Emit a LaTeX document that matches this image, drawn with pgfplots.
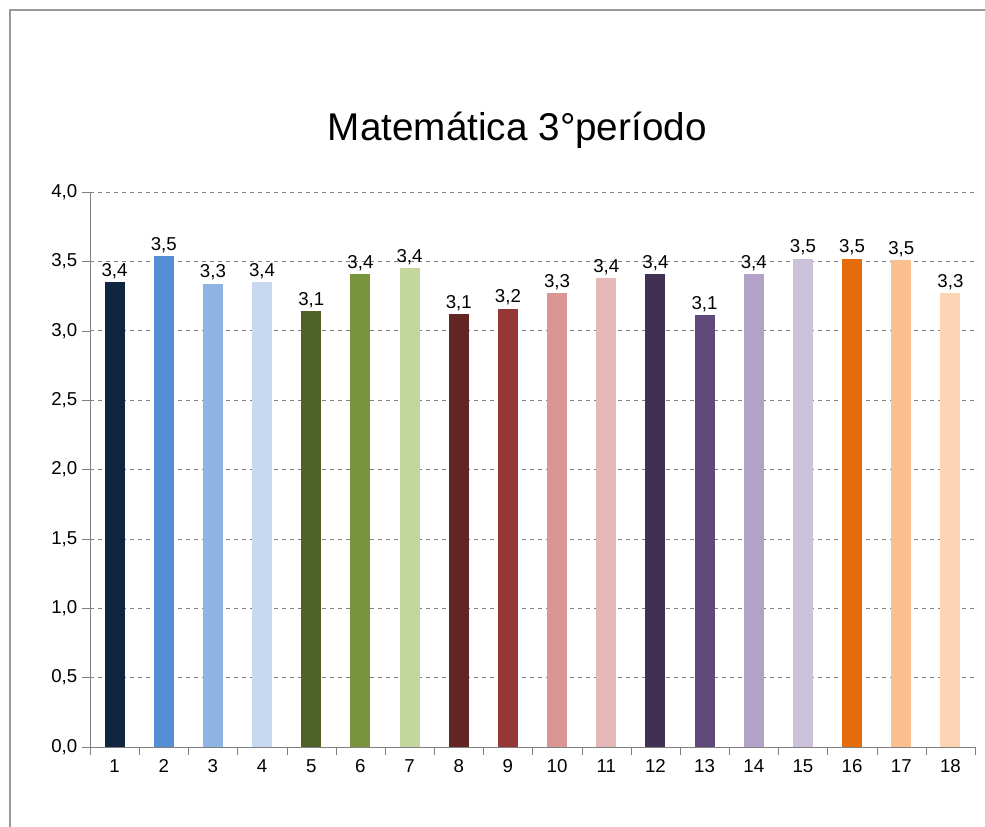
\documentclass[border=0pt]{standalone}
\usepackage{pgfplots}
\pgfplotsset{compat=1.18}
\usepackage{fontspec}
\setmainfont{Liberation Sans}
\begin{document}
\begin{tikzpicture}[x=1pt,y=1pt]
\useasboundingbox (0,0) rectangle (738.75,619.5);
\draw[gray!80,line width=1pt] (7.5,-5) rectangle (745,612);
\node[font=\fontsize{29}{32}\selectfont] at (388,522) {Matemática 3°período};
\begin{axis}[at={(67.5pt,59.25pt)},anchor=origin,
 scale only axis,width=663.75pt,height=416.25pt,
 xmin=0.5,xmax=18.5,ymin=0,ymax=4,
 axis x line*=bottom, axis y line*=left, axis line style={gray,-},
 ybar, bar width=15pt, bar shift=0pt,
 xtick={1,...,18}, major x tick style={draw=none},
 minor xtick={0.5,1.5,...,18.5}, minor tick length=6pt,
 xtick align=outside, ytick align=outside, major tick length=6pt,
 tick style={gray},
 ytick={0,0.5,...,4},
 ymajorgrids, grid style={gray,dashed},
 yticklabel style={/pgf/number format/.cd,fixed,fixed zerofill,precision=1,use comma},
 tick label style={font=\fontsize{14}{16}\selectfont},
 /pgf/number format/assume math mode=true,
 nodes near coords={\pgfplotspointmeta},
 point meta=explicit symbolic,
 every node near coord/.append style={font=\fontsize{14}{16}\selectfont,black,yshift=-1pt},
 ]
\addplot[fill={rgb,255:red,16;green,37;blue,63},draw=none] coordinates {(1,3.35)[3,4]};
\addplot[fill={rgb,255:red,85;green,142;blue,213},draw=none] coordinates {(2,3.54)[3,5]};
\addplot[fill={rgb,255:red,142;green,180;blue,227},draw=none] coordinates {(3,3.34)[3,3]};
\addplot[fill={rgb,255:red,198;green,217;blue,241},draw=none] coordinates {(4,3.35)[3,4]};
\addplot[fill={rgb,255:red,79;green,98;blue,40},draw=none] coordinates {(5,3.14)[3,1]};
\addplot[fill={rgb,255:red,119;green,147;blue,60},draw=none] coordinates {(6,3.41)[3,4]};
\addplot[fill={rgb,255:red,195;green,214;blue,155},draw=none] coordinates {(7,3.45)[3,4]};
\addplot[fill={rgb,255:red,99;green,37;blue,35},draw=none] coordinates {(8,3.12)[3,1]};
\addplot[fill={rgb,255:red,149;green,55;blue,53},draw=none] coordinates {(9,3.16)[3,2]};
\addplot[fill={rgb,255:red,217;green,150;blue,148},draw=none] coordinates {(10,3.27)[3,3]};
\addplot[fill={rgb,255:red,230;green,185;blue,184},draw=none] coordinates {(11,3.38)[3,4]};
\addplot[fill={rgb,255:red,64;green,49;blue,82},draw=none] coordinates {(12,3.41)[3,4]};
\addplot[fill={rgb,255:red,96;green,74;blue,123},draw=none] coordinates {(13,3.11)[3,1]};
\addplot[fill={rgb,255:red,179;green,162;blue,199},draw=none] coordinates {(14,3.41)[3,4]};
\addplot[fill={rgb,255:red,204;green,193;blue,218},draw=none] coordinates {(15,3.52)[3,5]};
\addplot[fill={rgb,255:red,228;green,108;blue,10},draw=none] coordinates {(16,3.52)[3,5]};
\addplot[fill={rgb,255:red,250;green,192;blue,144},draw=none] coordinates {(17,3.51)[3,5]};
\addplot[fill={rgb,255:red,252;green,213;blue,181},draw=none] coordinates {(18,3.27)[3,3]};
\end{axis}
\end{tikzpicture}
\end{document}
